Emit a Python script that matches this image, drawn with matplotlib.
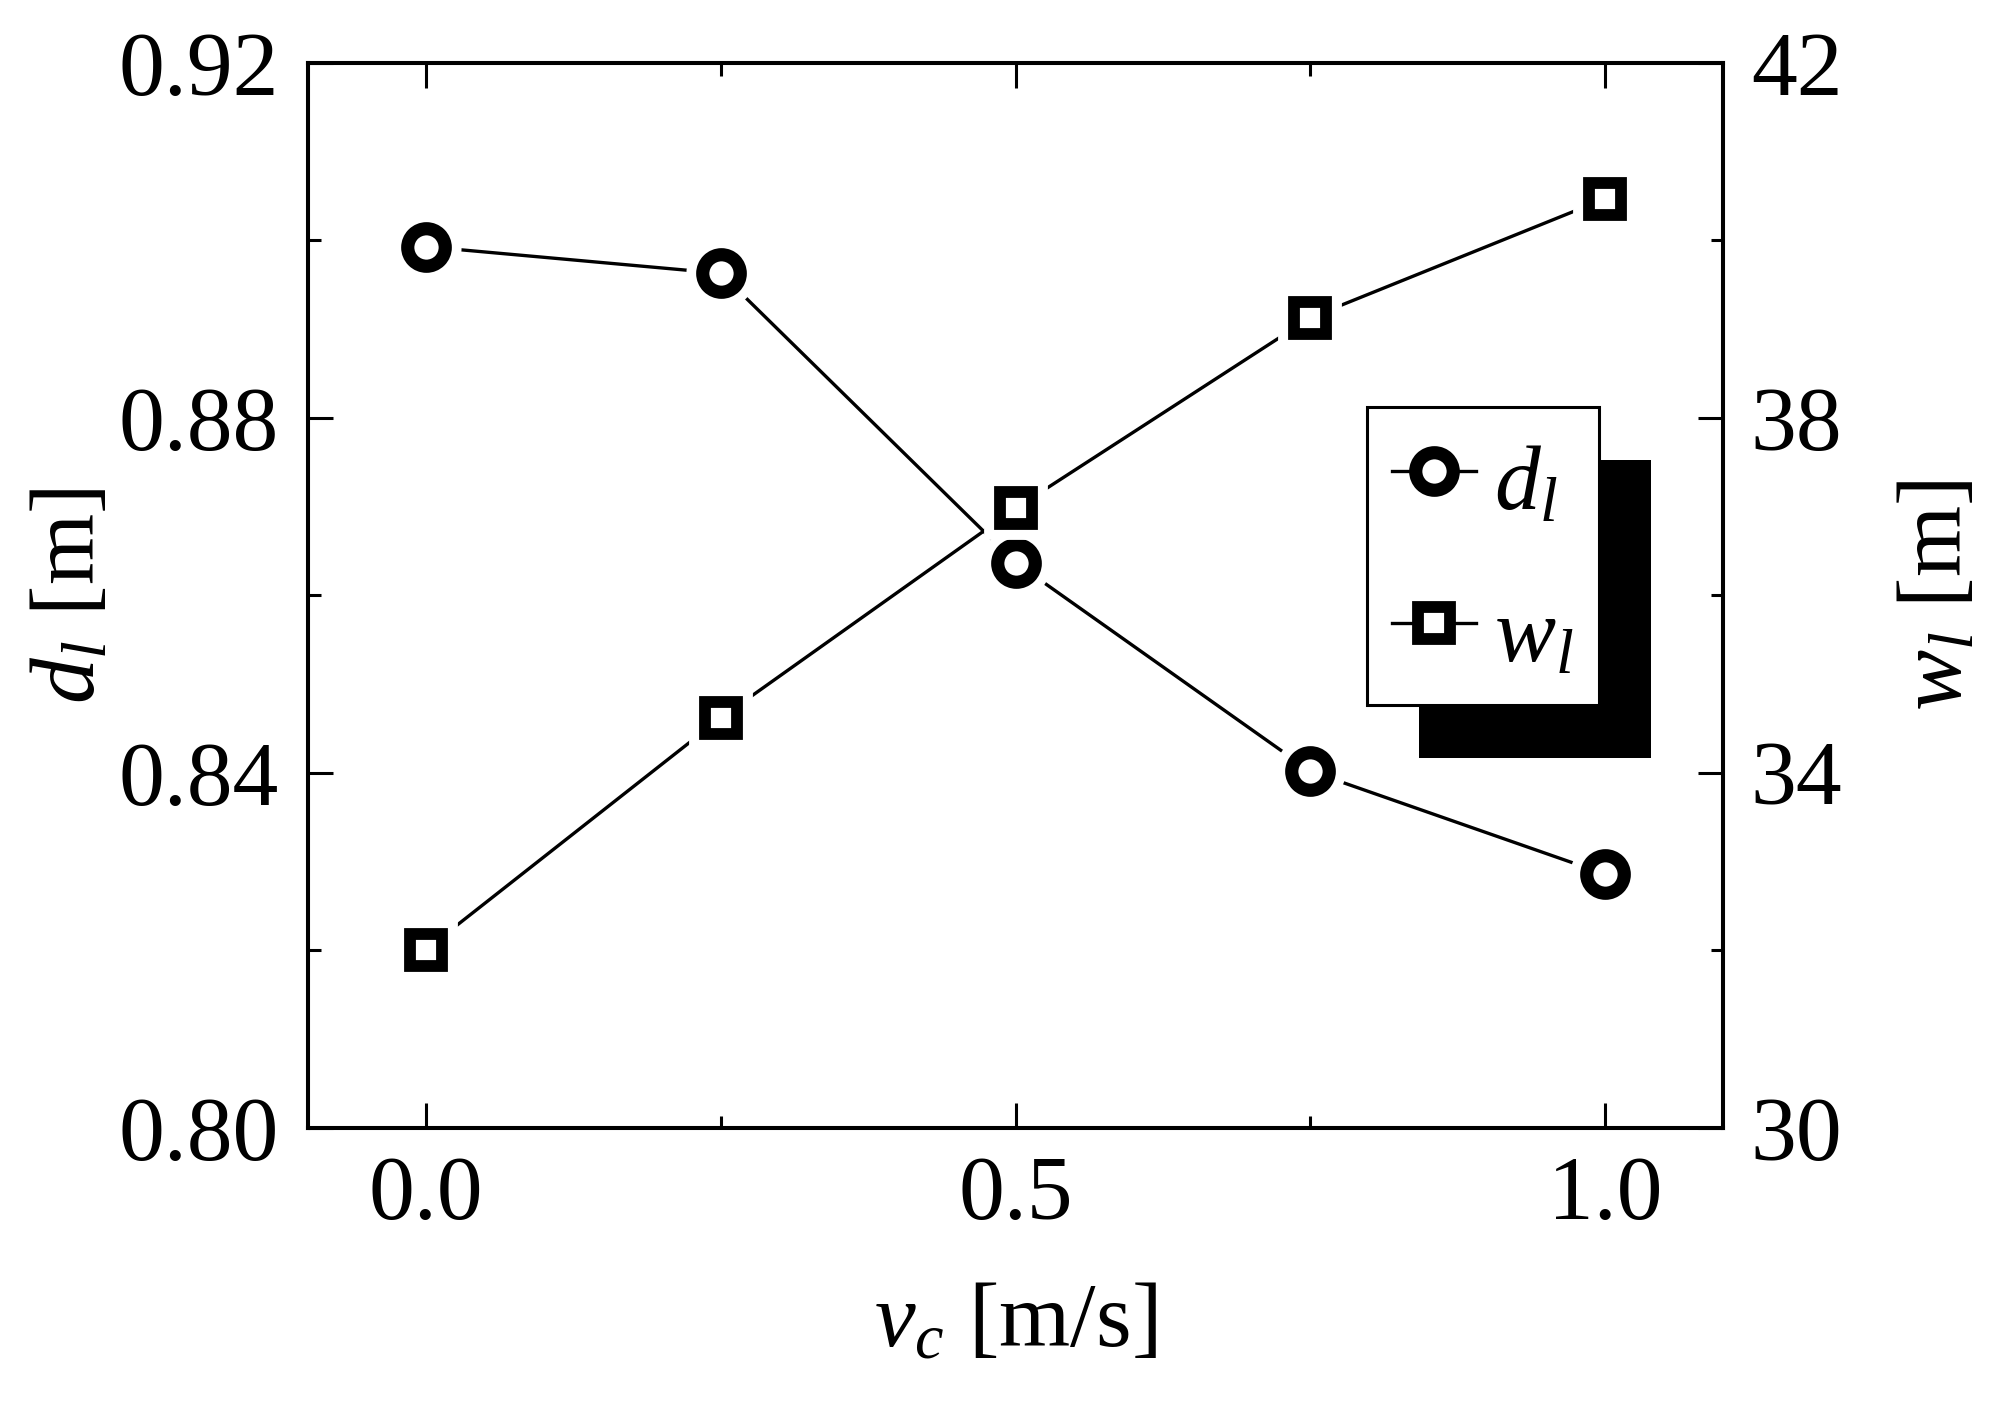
import matplotlib
matplotlib.use("Agg")
import matplotlib.pyplot as plt
from matplotlib.lines import Line2D
from matplotlib.patches import Rectangle
from matplotlib.ticker import FixedLocator, FormatStrFormatter

plt.rcParams['font.family'] = ['Liberation Serif', 'DejaVu Serif']
plt.rcParams['mathtext.fontset'] = 'custom'
plt.rcParams['mathtext.rm'] = 'Liberation Serif'
plt.rcParams['mathtext.it'] = 'Liberation Serif:italic'

# data
vc = [0.0, 0.25, 0.5, 0.75, 1.0]
d_l = [0.8993, 0.8963, 0.8637, 0.8402, 0.8286]
w_l = [32.01, 34.62, 36.98, 39.13, 40.47]

x_major = [0.0, 0.5, 1.0]
x_minor = [0.25, 0.75]
d_major = [0.80, 0.84, 0.88, 0.92]
d_minor = [0.82, 0.86, 0.90]
w_major = [30, 34, 38, 42]
w_minor = [32, 36, 40]

FS = 66
LW = 2.4
SPINE = 2.9
CIRC = dict(marker='o', ms=27, mew=9.5)
SQR = dict(marker='s', ms=23.5, mew=8.5)

fig = plt.figure(figsize=(20.16, 14.08), dpi=100)
ax = fig.add_axes([0.1528, 0.1989, 0.8547 - 0.1528, 0.9553 - 0.1989])
ax2 = ax.twinx()


def draw_series(a, y, mk):
    # line, then a white halo so the line stops short of the marker, then the marker
    a.plot(vc, y, '-', color='k', lw=LW, zorder=2)
    a.plot(vc, y, ls='none', marker=mk['marker'], ms=mk['ms'] + 14, mfc='white',
           mec='white', mew=mk['mew'], zorder=3)
    a.plot(vc, y, ls='none', mfc='white', mec='k', zorder=4, **mk)


draw_series(ax, d_l, CIRC)
draw_series(ax2, w_l, SQR)

ax.set_xlim(-0.1, 1.1)
ax.set_ylim(0.80, 0.92)
ax2.set_ylim(30, 42)

ax.xaxis.set_major_locator(FixedLocator(x_major))
ax.xaxis.set_minor_locator(FixedLocator(x_minor))
ax.yaxis.set_major_locator(FixedLocator(d_major))
ax.yaxis.set_minor_locator(FixedLocator(d_minor))
ax2.yaxis.set_major_locator(FixedLocator(w_major))
ax2.yaxis.set_minor_locator(FixedLocator(w_minor))
ax.xaxis.set_major_formatter(FormatStrFormatter('%.1f'))
ax.yaxis.set_major_formatter(FormatStrFormatter('%.2f'))
ax2.yaxis.set_major_formatter(FormatStrFormatter('%d'))

for a in (ax, ax2):
    for s in a.spines.values():
        s.set_linewidth(SPINE)
    a.tick_params(which='major', direction='in', length=18, width=2.2, labelsize=FS)
    a.tick_params(which='minor', direction='in', length=9, width=2.2)
ax.tick_params(axis='x', which='both', top=True, pad=20)
ax.tick_params(axis='y', which='both', right=False, pad=21)
ax2.tick_params(axis='y', which='both', pad=20)

ax.set_xlabel(r'$v_c$ [m/s]', fontsize=FS, labelpad=32)
ax.set_ylabel(r'$d_l$ [m]', fontsize=FS, labelpad=4)
ax2.set_ylabel(r'$w_l$ [m]', fontsize=FS, labelpad=40)

handles = [
    Line2D([], [], color='k', lw=LW, mfc='white', mec='k', **CIRC),
    Line2D([], [], color='k', lw=LW, mfc='white', mec='k', **SQR),
]
leg = ax2.legend(handles, [r'$d_l$', r'$w_l$'], loc='upper left',
                 bbox_to_anchor=(1367 / 2016, 1 - 407 / 1408),
                 bbox_transform=fig.transFigure, borderaxespad=0,
                 fontsize=FS, handlelength=0.92, handleheight=1.2,
                 handletextpad=0.2, labelspacing=0.6, borderpad=0.27,
                 fancybox=False, edgecolor='k', framealpha=1)
leg.get_frame().set_linewidth(2.2)
leg.set_zorder(10)

# offset black shadow behind the legend box
fig.canvas.draw()
bb = leg.get_frame().get_window_extent(fig.canvas.get_renderer())
shadow = Rectangle((bb.x0 + 52, bb.y0 - 53), bb.width, bb.height,
                   transform=None, facecolor='k', edgecolor='none', zorder=9)
ax2.add_artist(shadow)

fig.savefig('out.png', dpi=100)
